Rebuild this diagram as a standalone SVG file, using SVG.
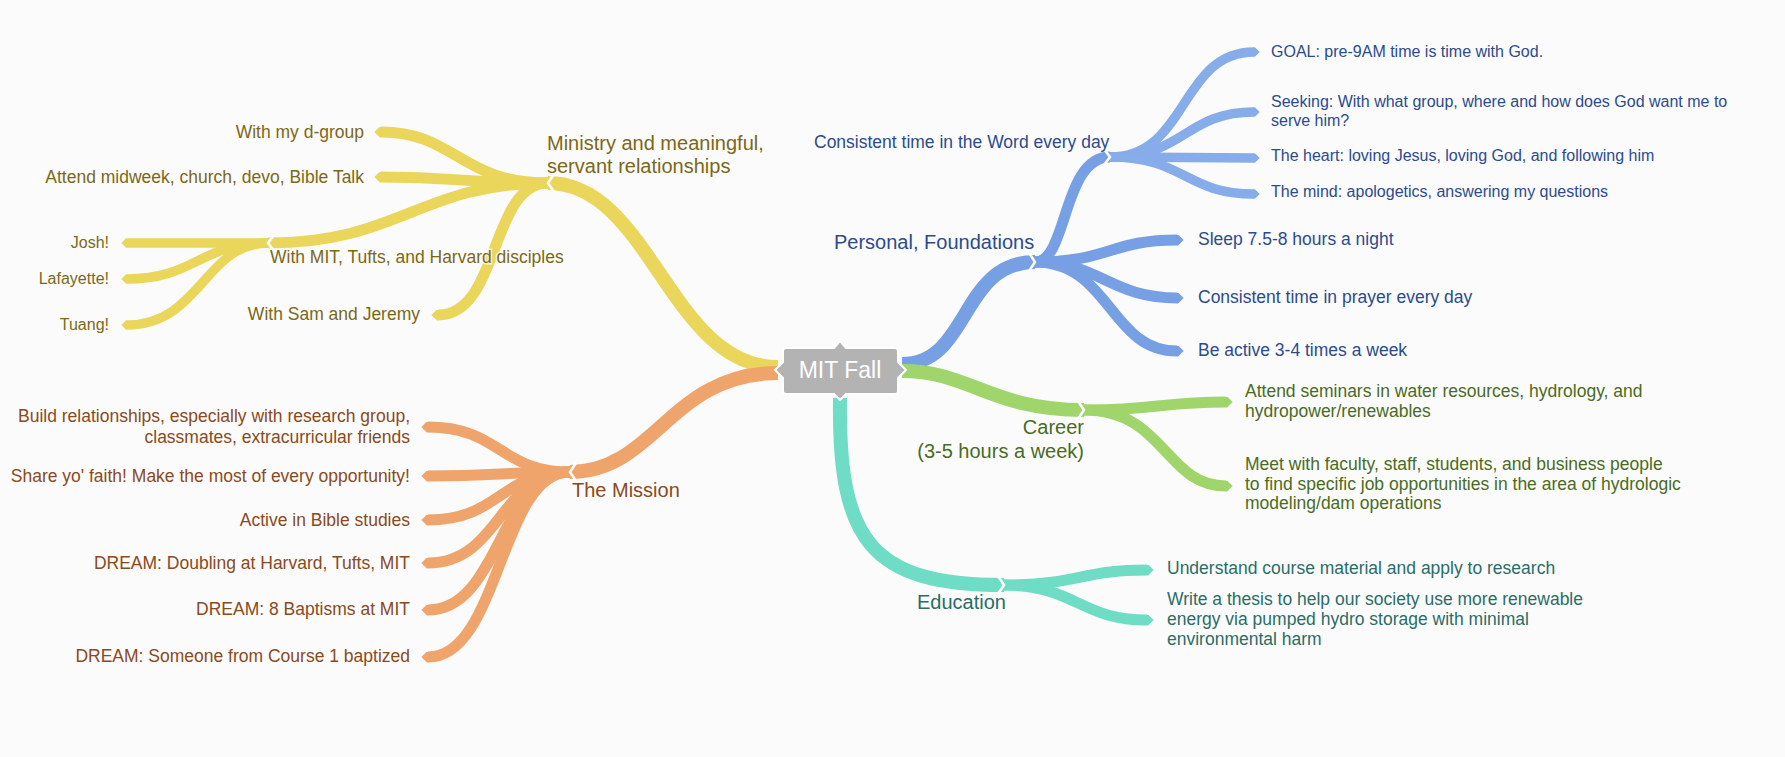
<svg xmlns="http://www.w3.org/2000/svg" width="1785" height="757" viewBox="0 0 1785 757">
<style>
.b{fill:none;stroke-linecap:butt;stroke-linejoin:round}
.y{stroke:#ebd65c}.o{stroke:#efa46c}.bl{stroke:#76a0e3}.bl3{stroke:#86ace9}.g{stroke:#9fd56b}.t{stroke:#6fdcc6}
.w1{stroke-width:14}.w2{stroke-width:11}.w3{stroke-width:9.5}
.chev{fill:none;stroke:#ffffff;stroke-width:2.5;stroke-linejoin:miter}
text{font-family:"Liberation Sans",Arial,sans-serif}
.ty{fill:#7b6816}.to{fill:#8a4a20}.tb{fill:#2b4b8c}.tg{fill:#4a6b22}.tt{fill:#2a6d66}
.s20{font-size:20px}.s17{font-size:17.5px}.s16{font-size:16px}
.e{text-anchor:end}
.halo{paint-order:stroke;stroke:#fbfbfb;stroke-width:3;stroke-opacity:0.75}
</style>
<defs>
<marker id="mY" viewBox="0 -5 6 10" markerWidth="0.6" markerHeight="1" refX="0" refY="0" orient="auto" markerUnits="strokeWidth"><path d="M0,-5 L1,-5 L6,0 L1,5 L0,5 Z" fill="#ebd65c"/></marker>
<marker id="mO" viewBox="0 -5 6 10" markerWidth="0.6" markerHeight="1" refX="0" refY="0" orient="auto" markerUnits="strokeWidth"><path d="M0,-5 L1,-5 L6,0 L1,5 L0,5 Z" fill="#efa46c"/></marker>
<marker id="mB" viewBox="0 -5 6 10" markerWidth="0.6" markerHeight="1" refX="0" refY="0" orient="auto" markerUnits="strokeWidth"><path d="M0,-5 L1,-5 L6,0 L1,5 L0,5 Z" fill="#76a0e3"/></marker>
<marker id="mB3" viewBox="0 -5 6 10" markerWidth="0.6" markerHeight="1" refX="0" refY="0" orient="auto" markerUnits="strokeWidth"><path d="M0,-5 L1,-5 L6,0 L1,5 L0,5 Z" fill="#86ace9"/></marker>
<marker id="mG" viewBox="0 -5 6 10" markerWidth="0.6" markerHeight="1" refX="0" refY="0" orient="auto" markerUnits="strokeWidth"><path d="M0,-5 L1,-5 L6,0 L1,5 L0,5 Z" fill="#9fd56b"/></marker>
<marker id="mT" viewBox="0 -5 6 10" markerWidth="0.6" markerHeight="1" refX="0" refY="0" orient="auto" markerUnits="strokeWidth"><path d="M0,-5 L1,-5 L6,0 L1,5 L0,5 Z" fill="#6fdcc6"/></marker>
</defs>
<rect x="0" y="0" width="1785" height="757" fill="#fbfbfb"/>
<g id="connectors">
<!-- yellow -->
<path class="b y w1" d="M778,367 C670,367 650,183 548,183"/>
<path class="b y w2" d="M548,183 C460,183 455,132 381,132" marker-end="url(#mY)"/>
<path class="b y w2" d="M548,183 C460,183 460,177 381,177" marker-end="url(#mY)"/>
<path class="b y w2" d="M548,183 C420,183 400,243 268,243"/>
<path class="b y w2" d="M548,183 C490,183 500,315 438,315" marker-end="url(#mY)"/>
<path class="b y w3" d="M268,243 L127,243" marker-end="url(#mY)"/>
<path class="b y w3" d="M268,243 C200,243 195,279 127,279" marker-end="url(#mY)"/>
<path class="b y w3" d="M268,243 C205,243 200,325 127,325" marker-end="url(#mY)"/>
<!-- orange -->
<path class="b o w1" d="M778,373 C670,373 655,472 570,472"/>
<path class="b o w2" d="M570,472 C500,472 500,427 428,427" marker-end="url(#mO)"/>
<path class="b o w2" d="M570,472 C500,472 500,476 428,476" marker-end="url(#mO)"/>
<path class="b o w2" d="M570,472 C500,472 500,520 428,520" marker-end="url(#mO)"/>
<path class="b o w2" d="M570,472 C500,472 500,563 428,563" marker-end="url(#mO)"/>
<path class="b o w2" d="M570,472 C500,472 500,610 428,610" marker-end="url(#mO)"/>
<path class="b o w2" d="M570,472 C500,472 500,657 428,657" marker-end="url(#mO)"/>
<!-- blue -->
<path class="b bl w1" d="M902,364 C970,364 960,262 1035,262"/>
<path class="b bl w2" d="M1035,262 C1068,262 1062,157 1110,157"/>
<path class="b bl w2" d="M1035,262 C1110,262 1110,240 1177,240" marker-end="url(#mB)"/>
<path class="b bl w2" d="M1035,262 C1100,262 1110,298 1177,298" marker-end="url(#mB)"/>
<path class="b bl w2" d="M1035,262 C1110,262 1110,351 1177,351" marker-end="url(#mB)"/>
<path class="b bl3 w3" d="M1110,157 C1188,157 1180,52 1254,52" marker-end="url(#mB3)"/>
<path class="b bl3 w3" d="M1110,157 C1185,157 1185,112 1254,112" marker-end="url(#mB3)"/>
<path class="b bl3 w3" d="M1110,157 C1185,157 1185,158 1254,158" marker-end="url(#mB3)"/>
<path class="b bl3 w3" d="M1110,157 C1185,157 1185,194 1254,194" marker-end="url(#mB3)"/>
<!-- green -->
<path class="b g w1" d="M902,371 C970,371 990,410 1084,410"/>
<path class="b g w2" d="M1084,410 C1160,410 1160,402 1226,402" marker-end="url(#mG)"/>
<path class="b g w2" d="M1084,410 C1165,410 1165,486 1226,486" marker-end="url(#mG)"/>
<!-- teal -->
<path class="b t w1" d="M840,398 C838,540 870,585 1004,585"/>
<path class="b t w2" d="M1004,585 C1080,585 1080,570 1147,570" marker-end="url(#mT)"/>
<path class="b t w2" d="M1004,585 C1075,585 1080,620 1147,620" marker-end="url(#mT)"/>
<!-- junction chevrons -->
<polyline class="chev" points="554,174 548,183 554,192"/>
<polyline class="chev" points="274,235 268,243 274,251"/>
<polyline class="chev" points="576,463 570,472 576,481"/>
<polyline class="chev" points="1029,253 1035,262 1029,271"/>
<polyline class="chev" points="1104,149 1110,157 1104,165"/>
<polyline class="chev" points="1078,401 1084,410 1078,419"/>
<polyline class="chev" points="998,576 1004,585 998,594"/>
</g>
<g id="center">
<path d="M786,348 H834 L840,341 L846,348 H895 A3,3 0 0 1 898,351 V362 L906,370 L898,378 V391 A3,3 0 0 1 895,394 H846 L840,400 L834,394 H786 A3,3 0 0 1 783,391 V378 L775,370 L783,362 V351 A3,3 0 0 1 786,348 Z" fill="#b3b3b3" stroke="#ffffff" stroke-width="2"/>
<text x="840" y="378" font-size="23" fill="#ffffff" text-anchor="middle">MIT Fall</text>
</g>
<g id="ministry"><text class="ty s20" x="547" y="150">Ministry and meaningful,</text><text class="ty s20" x="547" y="173">servant relationships</text></g>
<g id="dgroup"><text class="ty s17 e" x="364" y="138">With my d-group</text></g>
<g id="midweek"><text class="ty s17 e" x="364" y="183">Attend midweek, church, devo, Bible Talk</text></g>
<g id="disciples"><text class="ty s17 halo" x="270" y="263">With MIT, Tufts, and Harvard disciples</text></g>
<g id="josh"><text class="ty s16 e" x="109" y="248">Josh!</text></g>
<g id="lafayette"><text class="ty s16 e" x="109" y="284">Lafayette!</text></g>
<g id="tuang"><text class="ty s16 e" x="109" y="330">Tuang!</text></g>
<g id="samjeremy"><text class="ty s17 e" x="420" y="320">With Sam and Jeremy</text></g>
<g id="mission"><text class="to s20" x="572" y="497">The Mission</text></g>
<g id="build"><text class="to s17 e" x="410" y="422">Build relationships, especially with research group,</text><text class="to s17 e" x="410" y="443">classmates, extracurricular friends</text></g>
<g id="share"><text class="to s17 e" x="410" y="482">Share yo' faith! Make the most of every opportunity!</text></g>
<g id="bible"><text class="to s17 e" x="410" y="526">Active in Bible studies</text></g>
<g id="doubling"><text class="to s17 e" x="410" y="569">DREAM: Doubling at Harvard, Tufts, MIT</text></g>
<g id="baptisms"><text class="to s17 e" x="410" y="615">DREAM: 8 Baptisms at MIT</text></g>
<g id="course1"><text class="to s17 e" x="410" y="662">DREAM: Someone from Course 1 baptized</text></g>
<g id="personal"><text class="tb s20" x="834" y="249">Personal, Foundations</text></g>
<g id="word"><text class="tb s17" x="814" y="148">Consistent time in the Word every day</text></g>
<g id="goal"><text class="tb s16" x="1271" y="57">GOAL: pre-9AM time is time with God.</text></g>
<g id="seeking"><text class="tb s16" x="1271" y="107">Seeking: With what group, where and how does God want me to</text><text class="tb s16" x="1271" y="126">serve him?</text></g>
<g id="heart"><text class="tb s16" x="1271" y="161">The heart: loving Jesus, loving God, and following him</text></g>
<g id="mind"><text class="tb s16" x="1271" y="197">The mind: apologetics, answering my questions</text></g>
<g id="sleep"><text class="tb s17" x="1198" y="245">Sleep 7.5-8 hours a night</text></g>
<g id="prayer"><text class="tb s17" x="1198" y="303">Consistent time in prayer every day</text></g>
<g id="active"><text class="tb s17" x="1198" y="356">Be active 3-4 times a week</text></g>
<g id="career"><text class="tg s20 e" x="1084" y="434">Career</text><text class="tg s20 e" x="1084" y="458">(3-5 hours a week)</text></g>
<g id="seminars"><text class="tg s17" x="1245" y="397">Attend seminars in water resources, hydrology, and</text><text class="tg s17" x="1245" y="417">hydropower/renewables</text></g>
<g id="meet"><text class="tg s17" x="1245" y="470">Meet with faculty, staff, students, and business people</text><text class="tg s17" x="1245" y="490">to find specific job opportunities in the area of hydrologic</text><text class="tg s17" x="1245" y="509">modeling/dam operations</text></g>
<g id="education"><text class="tt s20" x="917" y="609">Education</text></g>
<g id="understand"><text class="tt s17" x="1167" y="574">Understand course material and apply to research</text></g>
<g id="thesis"><text class="tt s17" x="1167" y="605">Write a thesis to help our society use more renewable</text><text class="tt s17" x="1167" y="625">energy via pumped hydro storage with minimal</text><text class="tt s17" x="1167" y="645">environmental harm</text></g>
</svg>
